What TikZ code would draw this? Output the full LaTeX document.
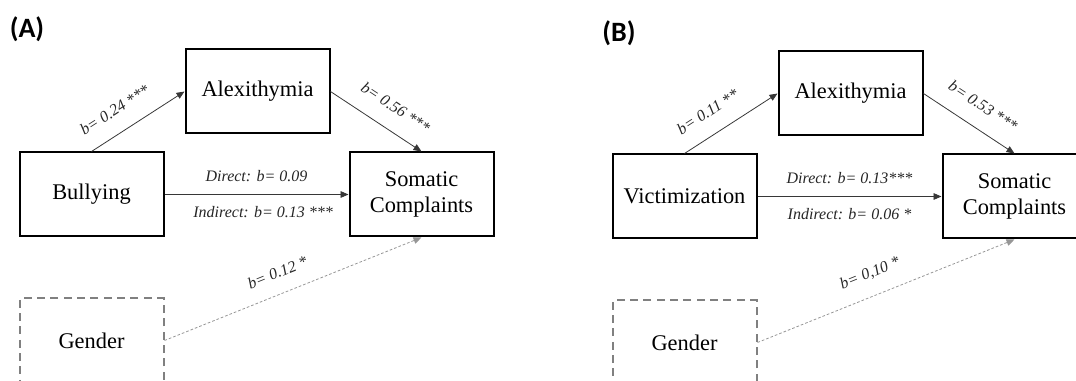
\documentclass[tikz,border=0pt]{standalone}
\usepackage{fontspec}
\setmainfont{Liberation Serif}
\newfontfamily\panelfont{Carlito}
\usetikzlibrary{arrows.meta}
\definecolor{PathGray}{RGB}{55,55,55}
\definecolor{CtrlGray}{RGB}{128,128,128}
\definecolor{CtrlLine}{RGB}{150,150,150}

\begin{document}
\begin{tikzpicture}[x=0.75pt, y=-0.75pt, every node/.style={align=center},
  box/.style={draw, line width=1.5pt, minimum width=108pt, minimum height=63pt,
    inner sep=0pt, font=\fontsize{16.8}{20}\selectfont},
  ctrlbox/.style={box, draw=CtrlGray, dash pattern=on 6pt off 4pt},
  arr/.style={-{Triangle[length=6pt,width=5pt]}, line width=0.6pt, PathGray},
  ctrlarr/.style={-{Triangle[length=6pt,width=5pt]}, line width=0.6pt, CtrlLine,
    dash pattern=on 2pt off 1.5pt},
  lab/.style={font=\fontsize{12}{14}\selectfont\itshape, text=black!85},
  panel/.style={font=\panelfont\bfseries\fontsize{21}{24}\selectfont}]
  \clip (0,0) rectangle (1076,381);

  % panel A
  \node[panel] (tagA) at (27,29) {(A)};
  \node[box] (bull) at (91.5,194.5) {Bullying};
  \node[box] (alexA) at (257.5,91.5) {Alexithymia};
  \node[box] (somA) at (421.5,194.5) {Somatic\\Complaints};
  \node[ctrlbox] (genA) at (91.5,340.5) {Gender};
  \draw[arr] (bull.north) -- node[lab, sloped, above=9pt, pos=0.38] {b= 0.24 ***} (alexA.west);
  \draw[arr] (alexA.east) -- node[lab, sloped, above=9pt, pos=0.58] {b= 0.56 ***} (somA.north);
  \draw[arr] (bull.east) -- node[lab, above=6pt] {Direct: b= 0.09}
    node[lab, below=5pt, xshift=5pt] {Indirect: b= 0.13 ***} (somA.west);
  \draw[ctrlarr] (genA.east) -- node[lab, sloped, above=8pt, pos=0.47] {b= 0.12 *} (somA.south);

  % panel B
  \node[panel] (tagB) at (619,33) {(B)};
  \node[box] (vict) at (684.5,196.5) {Victimization};
  \node[box] (alexB) at (850.5,93.5) {Alexithymia};
  \node[box] (somB) at (1014.5,196.5) {Somatic\\Complaints};
  \node[ctrlbox] (genB) at (684.5,342.5) {Gender};
  \draw[arr] (vict.north) -- node[lab, sloped, above=9pt, pos=0.38] {b= 0.11 **} (alexB.west);
  \draw[arr] (alexB.east) -- node[lab, sloped, above=9pt, pos=0.52] {b= 0.53 ***} (somB.north);
  \draw[arr] (vict.east) -- node[lab, above=6pt] {Direct: b= 0.13***}
    node[lab, below=5pt] {Indirect: b= 0.06 *} (somB.west);
  \draw[ctrlarr] (genB.east) -- node[lab, sloped, above=8pt, pos=0.47] {b= 0,10 *} (somB.south);
\end{tikzpicture}
\end{document}
